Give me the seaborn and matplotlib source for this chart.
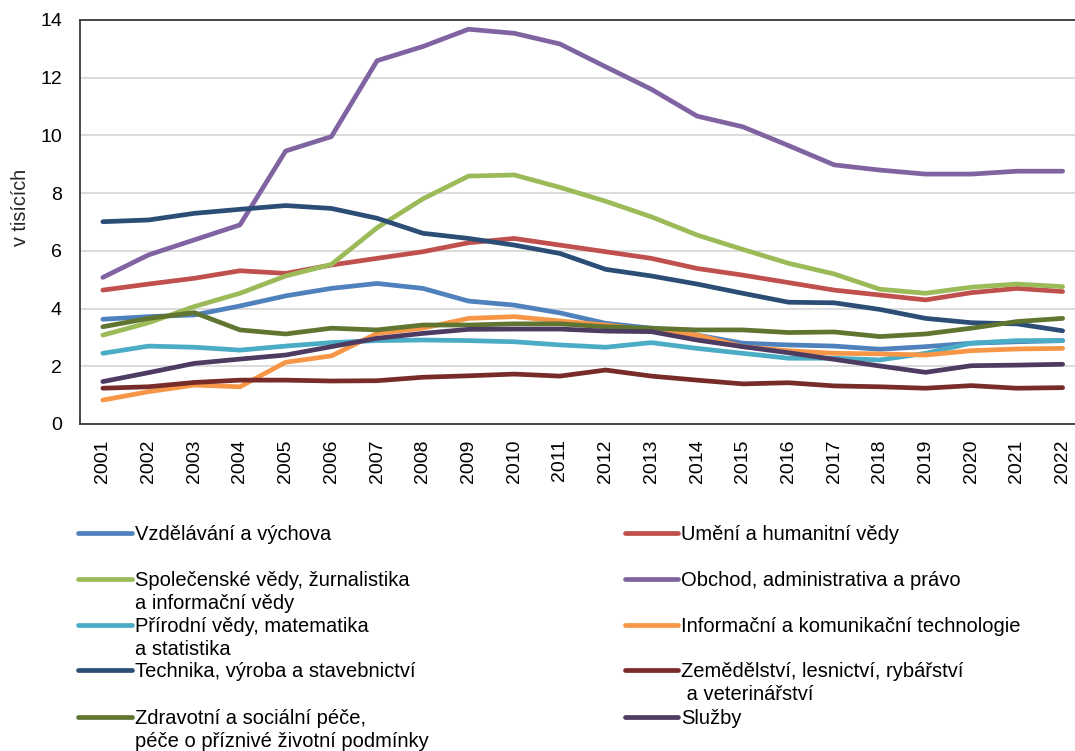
import numpy as np
import pandas as pd
import seaborn as sns
import matplotlib
matplotlib.use("Agg")
import matplotlib.pyplot as plt
from matplotlib.lines import Line2D

years = list(range(2001, 2023))

vzdelavani = [3.63, 3.72, 3.78, 4.09, 4.44, 4.70, 4.87, 4.70, 4.26, 4.12, 3.85, 3.49, 3.32, 3.08, 2.80, 2.74, 2.70, 2.59, 2.68, 2.80, 2.85, 2.89]
umeni = [4.64, 4.85, 5.05, 5.31, 5.22, 5.51, 5.74, 5.97, 6.28, 6.43, 6.20, 5.97, 5.74, 5.39, 5.16, 4.90, 4.64, 4.47, 4.30, 4.55, 4.70, 4.59]
spolecenske = [3.08, 3.51, 4.07, 4.53, 5.13, 5.53, 6.80, 7.80, 8.59, 8.63, 8.20, 7.72, 7.18, 6.55, 6.05, 5.57, 5.20, 4.67, 4.53, 4.74, 4.85, 4.76]
obchod = [5.08, 5.86, 6.38, 6.90, 9.46, 9.96, 12.59, 13.08, 13.68, 13.54, 13.17, 12.38, 11.60, 10.67, 10.30, 9.65, 8.98, 8.80, 8.66, 8.66, 8.76, 8.76]
prirodni = [2.45, 2.70, 2.66, 2.56, 2.70, 2.82, 2.89, 2.91, 2.89, 2.85, 2.74, 2.66, 2.82, 2.62, 2.45, 2.28, 2.28, 2.22, 2.45, 2.80, 2.89, 2.89]
ict = [0.83, 1.12, 1.35, 1.29, 2.14, 2.36, 3.14, 3.32, 3.66, 3.72, 3.57, 3.43, 3.26, 3.08, 2.68, 2.54, 2.45, 2.43, 2.39, 2.54, 2.60, 2.62]
technika = [7.01, 7.07, 7.30, 7.44, 7.57, 7.47, 7.13, 6.61, 6.43, 6.20, 5.91, 5.36, 5.13, 4.85, 4.53, 4.22, 4.20, 3.97, 3.66, 3.51, 3.47, 3.23]
zemedelstvi = [1.24, 1.29, 1.44, 1.52, 1.52, 1.49, 1.50, 1.62, 1.67, 1.73, 1.66, 1.87, 1.66, 1.52, 1.39, 1.43, 1.32, 1.29, 1.24, 1.33, 1.24, 1.26]
zdravotni = [3.37, 3.66, 3.86, 3.26, 3.12, 3.32, 3.26, 3.43, 3.43, 3.47, 3.47, 3.37, 3.32, 3.26, 3.26, 3.17, 3.19, 3.03, 3.12, 3.32, 3.55, 3.66]
sluzby = [1.47, 1.78, 2.10, 2.25, 2.39, 2.68, 2.97, 3.14, 3.28, 3.29, 3.29, 3.22, 3.20, 2.91, 2.68, 2.47, 2.24, 2.01, 1.79, 2.02, 2.04, 2.07]

labels = [
    "Vzdělávání a výchova",
    "Umění a humanitní vědy",
    "Společenské vědy, žurnalistika\na informační vědy",
    "Obchod, administrativa a právo",
    "Přírodní vědy, matematika\na statistika",
    "Informační a komunikační technologie",
    "Technika, výroba a stavebnictví",
    "Zemědělství, lesnictví, rybářství\n a veterinářství",
    "Zdravotní a sociální péče,\npéče o příznivé životní podmínky",
    "Služby",
]
values = [vzdelavani, umeni, spolecenske, obchod, prirodni, ict, technika, zemedelstvi, zdravotni, sluzby]
colors = ["#4F81BD", "#C0504D", "#9BBB59", "#8064A2", "#4BACC6",
          "#F79646", "#2C4D75", "#772C2A", "#5F7530", "#4D3B62"]

ylabel = "v tisících"
yticks = [0, 2, 4, 6, 8, 10, 12, 14]

df = pd.DataFrame({
    "rok": np.tile(years, len(labels)),
    "obor": np.repeat(labels, len(years)),
    "hodnota": np.concatenate(values),
})

sns.set_style("white")
plt.rcParams["font.family"] = ["Liberation Sans", "DejaVu Sans"]

W, H = 1075, 751
fig = plt.figure(figsize=(W / 100, H / 100), dpi=100)
ax_l, ax_r, ax_t, ax_b = 80, 1085.5, 20, 424
ax = fig.add_axes([ax_l / W, 1 - ax_b / H, (ax_r - ax_l) / W, (ax_b - ax_t) / H])

palette = dict(zip(labels, colors))
sns.lineplot(data=df, x="rok", y="hodnota", hue="obor", hue_order=labels,
             palette=palette, linewidth=3.4, legend=False, ax=ax,
             solid_capstyle="round", solid_joinstyle="round", zorder=3)

ax.set_xlim(2000.5, 2022.5)
ax.set_ylim(0, 14)
ax.set_yticks(yticks)
ax.set_xticks(years)
ax.set_xticklabels([str(y) for y in years], rotation=90)
ax.tick_params(axis="x", length=0, pad=11, labelsize=14, labelcolor="black")
ax.tick_params(axis="y", length=0, pad=13, labelsize=14, labelcolor="black")
ax.grid(axis="y", color="#D9D9D9", linewidth=1.3, zorder=0)
ax.grid(axis="x", visible=False)
ax.set_axisbelow(True)
for s in ["left", "top", "bottom"]:
    ax.spines[s].set_color("#3A3A3A")
    ax.spines[s].set_linewidth(1.3)
ax.spines["right"].set_visible(False)
ax.set_xlabel("")
ax.set_ylabel(ylabel, fontsize=14.2)
ax.yaxis.set_label_coords(-0.05, 0.535)

# manual legend (two columns, row-major order)
row_y = [532.7, 579.3, 624.6, 670.3, 716.7]
col_x = [(78, 132, 135), (625, 678, 681)]
fs_leg = 14.5
for i, (lab, col) in enumerate(zip(labels, colors)):
    r, c = i // 2, i % 2
    x0, x1, xt = col_x[c]
    y = row_y[r]
    fig.add_artist(Line2D([x0 / W, x1 / W], [1 - y / H, 1 - y / H], color=col,
                          linewidth=3.4, solid_capstyle="round", transform=fig.transFigure))
    for j, part in enumerate(lab.split("\n")):
        fig.text(xt / W, 1 - (y + 7 + 23 * j) / H, part, fontsize=fs_leg,
                 va="baseline", ha="left", color="black")

fig.savefig("out.png", dpi=100)
